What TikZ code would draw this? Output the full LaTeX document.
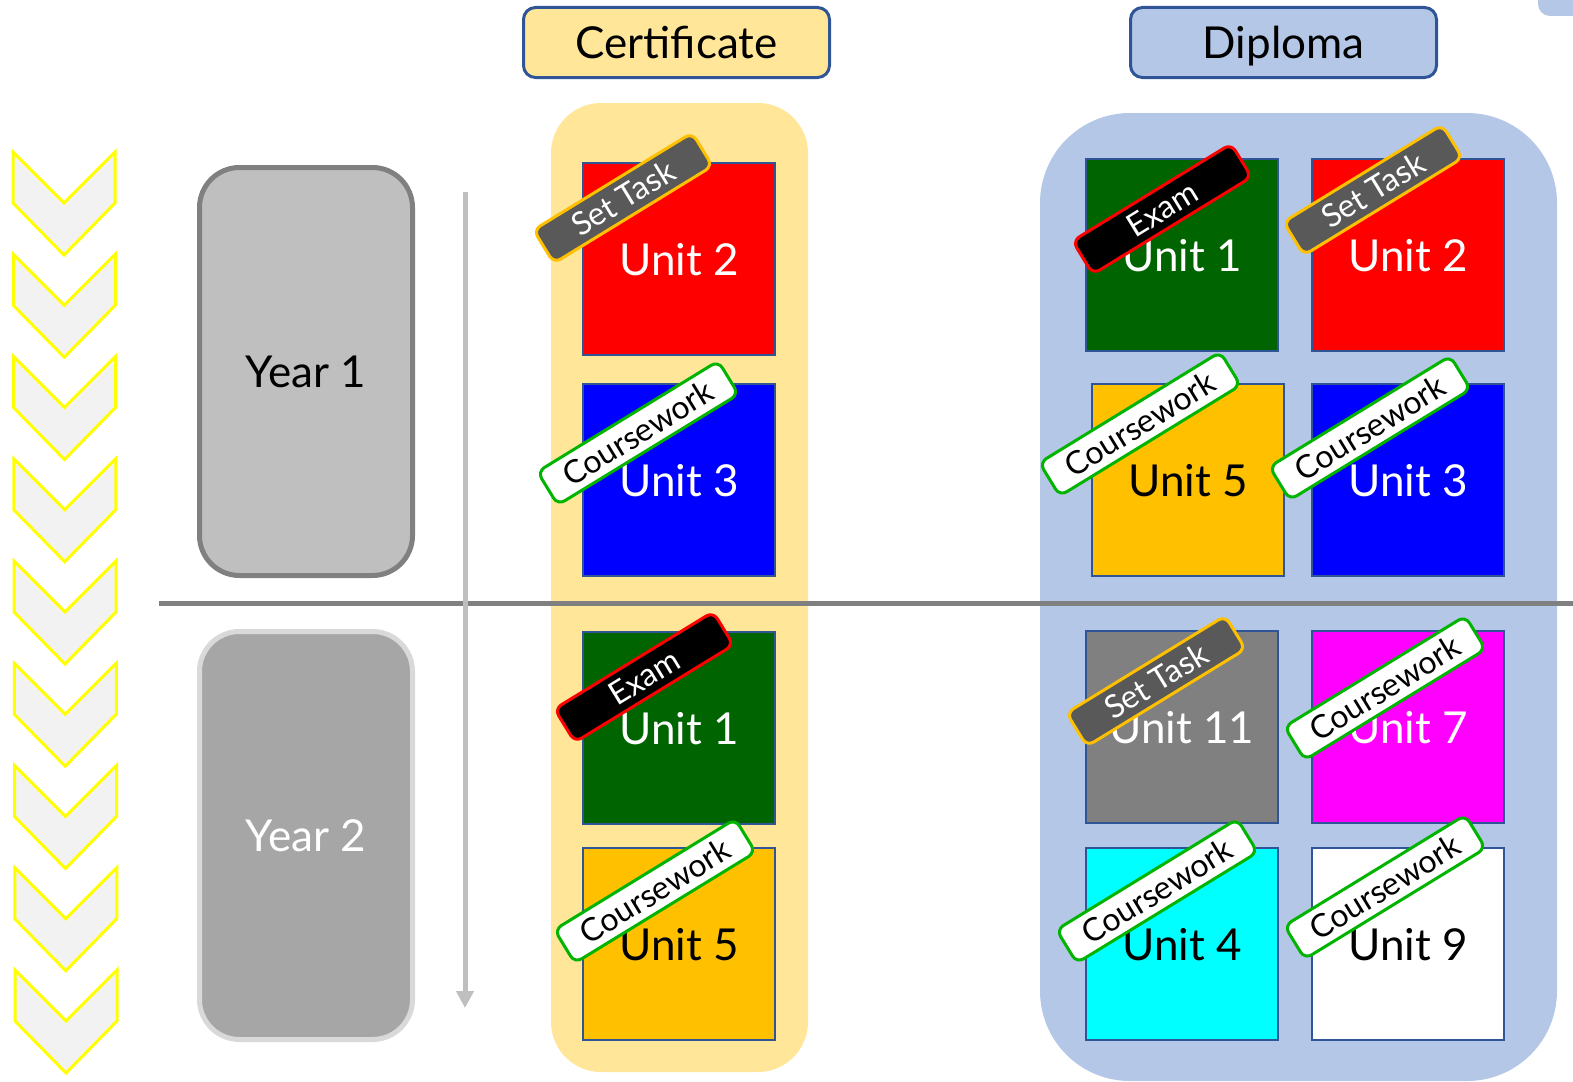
\documentclass[tikz,border=0pt]{standalone}
\usepackage{fontspec}
\setmainfont{Lato}
\usetikzlibrary{arrows.meta}
\definecolor{certY}{HTML}{FFE699}
\definecolor{dipB}{HTML}{B4C7E7}
\definecolor{edgeB}{HTML}{2F5597}
\definecolor{cwG}{HTML}{00B400}
\definecolor{stG}{HTML}{595959}
\definecolor{stO}{HTML}{FFC000}
\definecolor{chevF}{HTML}{F2F2F2}
\definecolor{chevE}{HTML}{FFFF00}
\definecolor{uGreen}{HTML}{006400}
\definecolor{uAmber}{HTML}{FFC000}
\definecolor{uGray}{HTML}{808080}
\definecolor{uRed}{HTML}{FF0000}
\definecolor{uBlue}{HTML}{0000FF}
\definecolor{uMag}{HTML}{FF00FF}
\definecolor{uCyan}{HTML}{00FFFF}
\definecolor{y1fill}{HTML}{BFBFBF}
\definecolor{y1edge}{HTML}{808080}
\definecolor{y2fill}{HTML}{A6A6A6}
\definecolor{y2edge}{HTML}{D9D9D9}
\definecolor{arrowG}{HTML}{BFBFBF}
\definecolor{lineG}{HTML}{808080}
\tikzset{
  unitbox/.style={draw=edgeB, line width=2pt, minimum width=192pt, minimum height=192pt, inner sep=0pt, text height=32pt, text depth=0pt, font=\fontsize{44}{48}\selectfont},
  tagbase/.style={rounded corners=8pt, line width=3pt, minimum height=39pt, inner sep=0pt, rotate=31.5, text height=23pt, text depth=0pt, font=\fontsize{32}{34}\selectfont},
  settask/.style={tagbase, fill=stG, draw=stO, text=white, minimum width=186pt},
  examtag/.style={tagbase, fill=black, draw=red, text=white, minimum width=186pt},
  cwtag/.style={tagbase, fill=white, draw=cwG, text=black, minimum width=212pt},
  hdr/.style={draw=edgeB, line width=3pt, rounded corners=12pt, minimum width=306pt, minimum height=70pt, inner sep=0pt, text height=32pt, text depth=0pt, font=\fontsize{44}{48}\selectfont},
  yearbox/.style={rounded corners=40pt, line width=5pt, minimum width=213pt, minimum height=408pt, inner sep=0pt, text height=32pt, text depth=0pt, font=\fontsize{44}{48}\selectfont},
  chev/.style={draw=chevE, line width=3pt, fill=chevF, line join=miter},
}
\begin{document}
\begin{tikzpicture}[x=1pt, y=-1pt]
\useasboundingbox (0,0) rectangle (1573,1081);
\begin{scope}
\clip (0,0) rectangle (1573,1081);
% backgrounds
\fill[certY, rounded corners=50pt] (551,103) rectangle (808,1072);
\fill[dipB, rounded corners=90pt] (1040,113) rectangle (1557,1081);
\fill[dipB, rounded corners=12pt] (1538,-20) rectangle (1600,16);
% separators
\coordinate (hl) at (159,603);
\coordinate (hr) at (1573,603);
\draw[lineG, line width=5pt] (hl) -- (hr);
\coordinate (at) at (465,192);
\coordinate (ab) at (465,1008);
\draw[arrowG, line width=5pt, -{Triangle[width=17pt,length=17pt]}] (at) -- (ab);
% chevrons
\foreach \i in {0,...,8} {
  \pgfmathsetmacro{\cx}{13+\i*0.25}
  \pgfmathsetmacro{\cy}{152+\i*102.25}
  \draw[chev] (\cx,\cy) -- ++(51,51) -- ++(51,-51) -- ++(0,51) -- ++(-51,52) -- ++(-51,-52) -- cycle;
}
\end{scope}
% headers
\node[hdr, fill=certY] (cert) at (676.5,42.5) {Certificate};
\node[hdr, fill=dipB] (dipl) at (1283.5,42.5) {Diploma};
% years
\node[yearbox, fill=y1fill, draw=y1edge, text=black] (year1) at (306,371.5) {Year 1};
\node[yearbox, fill=y2fill, draw=y2edge, text=white] (year2) at (306,835.5) {Year 2};
% certificate units
\node[unitbox, fill=uRed, text=white] (c2) at (679,259) {Unit 2};
\node[unitbox, fill=uBlue, text=white] (c3) at (679,480) {Unit 3};
\node[unitbox, fill=uGreen, text=white] (c1) at (679,728) {Unit 1};
\node[unitbox, fill=uAmber, text=black] (c5) at (679,944) {Unit 5};
% diploma units
\node[unitbox, fill=uGreen, text=white] (d1) at (1182,255) {Unit 1};
\node[unitbox, fill=uRed, text=white] (d2) at (1408,255) {Unit 2};
\node[unitbox, fill=uAmber, text=black] (d5) at (1188,480) {Unit 5};
\node[unitbox, fill=uBlue, text=white] (d3) at (1408,480) {Unit 3};
\node[unitbox, fill=uGray, text=white] (d11) at (1182,727) {Unit 11};
\node[unitbox, fill=uMag, text=white] (d7) at (1408,727) {Unit 7};
\node[unitbox, fill=uCyan, text=black] (d4) at (1182,944) {Unit 4};
\node[unitbox, fill=white, text=black] (d9) at (1408,944) {Unit 9};
% tags
\node[settask] (tc2) at (623,198) {Set Task};
\node[cwtag] (tc3) at (638,433) {Coursework};
\node[examtag] (tc1) at (644,677) {Exam};
\node[cwtag] (tc5) at (655,891) {Coursework};
\node[examtag] (td1) at (1162,209) {Exam};
\node[settask] (td2) at (1373,190) {Set Task};
\node[cwtag] (td5) at (1140,424) {Coursework};
\node[cwtag] (td3) at (1370,428) {Coursework};
\node[settask] (td11) at (1156,681) {Set Task};
\node[cwtag] (td7) at (1385,688) {Coursework};
\node[cwtag] (td4) at (1157,891) {Coursework};
\node[cwtag] (td9) at (1385,887) {Coursework};
\end{tikzpicture}
\end{document}
